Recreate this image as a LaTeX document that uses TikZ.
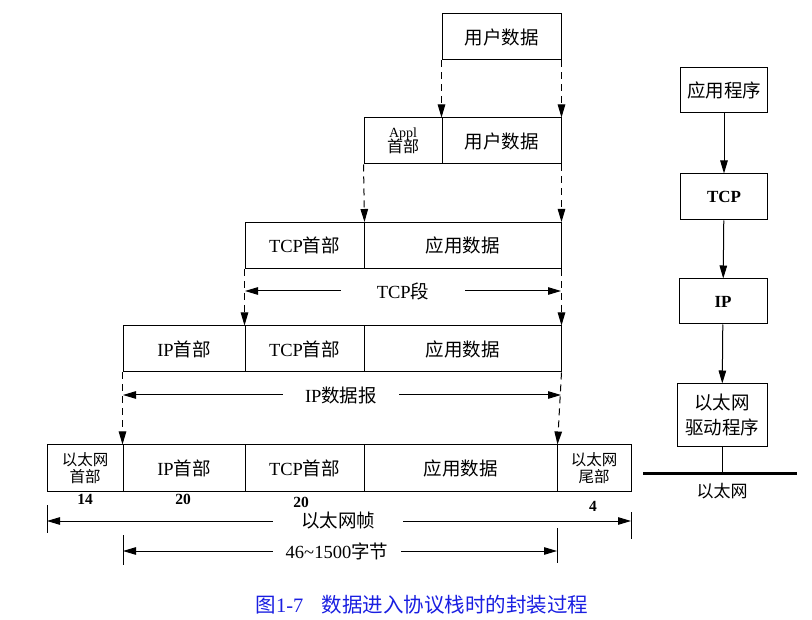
\documentclass[tikz,border=0pt]{standalone}
\usepackage{fontspec}
\setmainfont{Liberation Serif}
\newfontfamily\cjk{Noto Sans CJK SC}
\usetikzlibrary{arrows.meta}
\definecolor{capblue}{RGB}{25,30,225}
\begin{document}
\begin{tikzpicture}[x=1pt,y=-1pt,
  cell/.style={draw, line width=1pt, minimum height=46pt, inner sep=0pt, align=center, font=\fontsize{18.5}{20}\selectfont},
  twoline/.style={font=\cjk\fontsize{15.5}{17}\selectfont},
  stackbox/.style={draw, line width=1pt, inner sep=0pt, align=center, font=\fontsize{18.5}{22}\selectfont},
  dasharrow/.style={line width=1pt, dash pattern=on 7pt off 5pt, -{Triangle[length=13pt,width=7.5pt]}},
  solidarrow/.style={line width=1pt, -{Triangle[length=13pt,width=7.5pt]}},
  dimarrow/.style={line width=1pt, -{Triangle[length=13pt,width=7.5pt]}},
  dimlabel/.style={inner ysep=0pt, font=\fontsize{18.5}{20}\selectfont},
  numlabel/.style={inner sep=0pt, font=\fontsize{15.5}{16}\selectfont\bfseries},
  bar/.style={line width=1pt}
]
\useasboundingbox (0,0) rectangle (812,620);

% Row 1
\node[cell, minimum width=119pt] (u1) at (501.5,37) {\cjk 用户数据};
% Row 2
\node[cell, minimum width=78pt, font=\fontsize{14}{14}\selectfont] (ah) at (403,141) {Appl\\[-2pt]{\cjk\fontsize{16}{16}\selectfont 首部}};
\node[cell, minimum width=119pt] (u2) at (501.5,141) {\cjk 用户数据};
% Row 3
\node[cell, minimum width=119pt] (t3h) at (304.5,245.5) {TCP{\cjk 首部}};
\node[cell, minimum width=197pt] (a3) at (462.5,245.5) {\cjk 应用数据};
% Row 4
\node[cell, minimum width=122pt] (i4) at (184,349) {IP{\cjk 首部}};
\node[cell, minimum width=119pt] (t4) at (304.5,349) {TCP{\cjk 首部}};
\node[cell, minimum width=197pt] (a4) at (462.5,349) {\cjk 应用数据};
% Row 5
\node[cell, minimum width=76pt, twoline] (e5) at (85,468) {以太网\\首部};
\node[cell, minimum width=122pt] (i5) at (184,468) {IP{\cjk 首部}};
\node[cell, minimum width=119pt] (t5) at (304.5,468) {TCP{\cjk 首部}};
\node[cell, minimum width=193pt] (a5) at (460.5,468) {\cjk 应用数据};
\node[cell, minimum width=74pt, twoline] (et5) at (594,468) {以太网\\尾部};

% dashed arrows
\draw[dasharrow] (u1.south west) -- (u2.north west);
\draw[dasharrow] (u1.south east) -- (u2.north east);
\draw[dasharrow] (ah.south west) -- (t3h.north east);
\draw[dasharrow] (u2.south east) -- (a3.north east);
\draw[dasharrow] (t3h.south west) -- (t4.north west);
\draw[dasharrow] (a3.south east) -- (a4.north east);
\draw[dasharrow] (i4.south west) -- (i5.north west);
\draw[dasharrow] (a4.south east) -- (a5.north east);

% TCP segment dimension
\coordinate (tcpL) at (245,291);
\coordinate (tcpR) at (561,291);
\node[dimlabel, inner xsep=36pt] (tcplbl) at (403,291) {TCP{\cjk 段}};
\draw[dimarrow] (tcplbl.west) -- (tcpL);
\draw[dimarrow] (tcplbl.east) -- (tcpR);

% IP datagram dimension
\coordinate (ipL) at (123,395);
\coordinate (ipR) at (561,395);
\node[dimlabel, inner xsep=22pt] (iplbl) at (341,395) {IP{\cjk 数据报}};
\draw[dimarrow] (iplbl.west) -- (ipL);
\draw[dimarrow] (iplbl.east) -- (ipR);

% sizes
\node[numlabel] (n14) at (85,499) {14};
\node[numlabel] (n20a) at (183,499) {20};
\node[numlabel] (n20b) at (301,502) {20};
\node[numlabel] (n4) at (593,506) {4};

% Ethernet frame dimension
\coordinate (efTopL) at (47,505);
\coordinate (efBotL) at (47,533);
\coordinate (efTopR) at (631,512);
\coordinate (efBotR) at (631,539);
\draw[bar] (efTopL) -- (efBotL);
\draw[bar] (efTopR) -- (efBotR);
\coordinate (efL) at (47,521);
\coordinate (efR) at (631,521);
\node[dimlabel, inner xsep=28pt] (eflbl) at (338,521) {\cjk 以太网帧};
\draw[dimarrow] (eflbl.west) -- (efL);
\draw[dimarrow] (eflbl.east) -- (efR);

% 46~1500 dimension
\coordinate (pTopL) at (123,535);
\coordinate (pBotL) at (123,565);
\coordinate (pTopR) at (557,528);
\coordinate (pBotR) at (557,563);
\draw[bar] (pTopL) -- (pBotL);
\draw[bar] (pTopR) -- (pBotR);
\coordinate (pL) at (123,551);
\coordinate (pR) at (557,551);
\node[dimlabel, inner xsep=13pt] (plbl) at (337,551) {46\textasciitilde1500{\cjk 字节}};
\draw[dimarrow] (plbl.west) -- (pL);
\draw[dimarrow] (plbl.east) -- (pR);

% protocol stack
\node[stackbox, minimum width=87pt, minimum height=45pt] (app) at (724,90.5) {\cjk 应用程序};
\node[stackbox, minimum width=87pt, minimum height=46pt, font=\fontsize{17}{18}\selectfont\bfseries] (tcp) at (724,197) {TCP};
\node[stackbox, minimum width=88pt, minimum height=45pt, font=\fontsize{17}{18}\selectfont\bfseries] (ip) at (723,301.5) {IP};
\node[stackbox, minimum width=90pt, minimum height=63pt, font=\cjk\fontsize{18.5}{25}\selectfont] (drv) at (722,415.5) {以太网\\驱动程序};
\draw[solidarrow] (app) -- (tcp);
\draw[solidarrow] (tcp) -- (ip);
\draw[solidarrow] (ip) -- (drv);
\coordinate (ethL) at (643,474);
\coordinate (ethR) at (797,474);
\draw[line width=3pt] (ethL) -- (ethR);
\draw[line width=1pt] (drv.south) -- (drv.south |- ethL);
\node[font=\fontsize{17}{18}\selectfont, inner sep=0pt] (ethlbl) at (722,491) {\cjk 以太网};

% caption
\node[text=capblue, inner sep=0pt, font=\fontsize{20.5}{22}\selectfont] (cap) at (422,605) {{\cjk 图}1-7\hspace{0.9em}{\cjk 数据进入协议栈时的封装过程}};
\end{tikzpicture}
\end{document}
